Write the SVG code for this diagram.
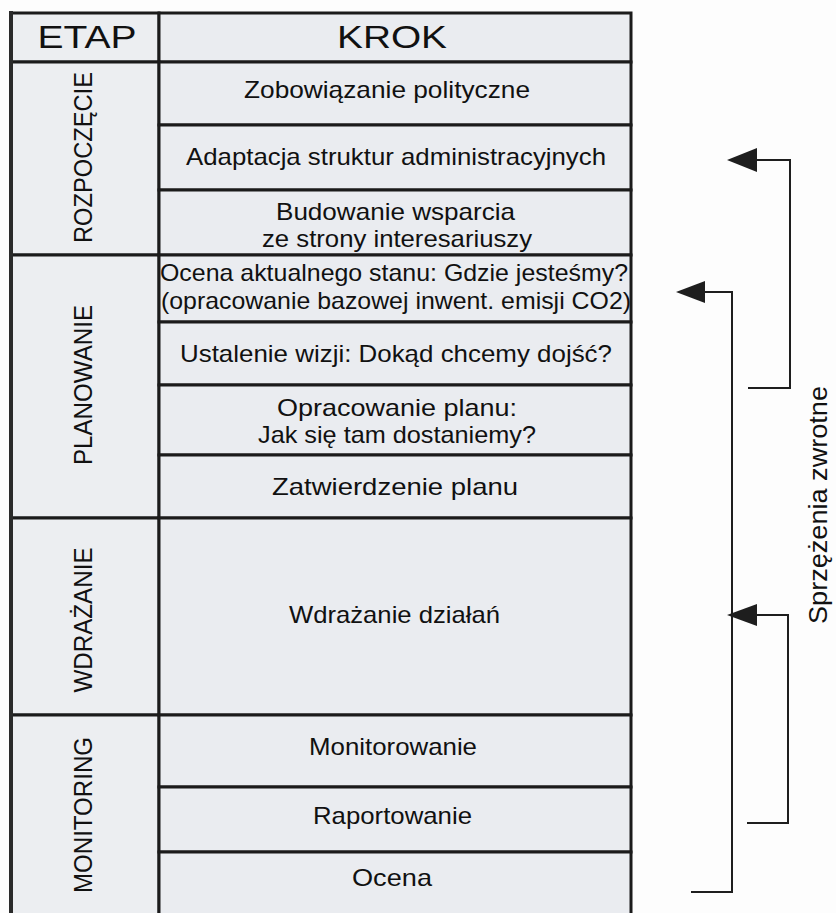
<svg xmlns="http://www.w3.org/2000/svg" width="836" height="913" viewBox="0 0 836 913">
  <style>
    .cell { fill: #eaecf0; stroke: #1b1b1b; stroke-width: 3; }
    .stage { fill: #eceef1; stroke: #1b1b1b; stroke-width: 3; }
    .t { font-family: "Liberation Sans", Arial, sans-serif; font-size: 24px; fill: #111111; text-anchor: middle; }
    .h { font-family: "Liberation Sans", Arial, sans-serif; font-size: 31px; fill: #111111; text-anchor: middle; }
    .v { font-family: "Liberation Sans", Arial, sans-serif; font-size: 25px; fill: #111111; text-anchor: middle; }
    .conn { fill: none; stroke: #1e1e1e; stroke-width: 2; }
    .head { fill: #1e1e1e; stroke: none; }
  </style>
  <rect x="0" y="0" width="836" height="913" fill="#fdfdfd"/>

  <g id="header-etap">
    <rect class="stage" x="11" y="13" width="148" height="49"/>
    <text class="h" x="87" y="48" textLength="99" lengthAdjust="spacingAndGlyphs">ETAP</text>
  </g>
  <g id="header-krok">
    <rect class="cell" x="159" y="13" width="472" height="49"/>
    <text class="h" x="392" y="48" textLength="110" lengthAdjust="spacingAndGlyphs">KROK</text>
  </g>

  <g id="stage-rozpoczecie">
    <rect class="stage" x="11" y="62" width="148" height="193"/>
    <text class="v" transform="translate(92,157.5) rotate(-90)" textLength="171" lengthAdjust="spacingAndGlyphs">ROZPOCZĘCIE</text>
  </g>
  <g id="stage-planowanie">
    <rect class="stage" x="11" y="255" width="148" height="263"/>
    <text class="v" transform="translate(92,385) rotate(-90)" textLength="160" lengthAdjust="spacingAndGlyphs">PLANOWANIE</text>
  </g>
  <g id="stage-wdrazanie">
    <rect class="stage" x="11" y="518" width="148" height="197"/>
    <text class="v" transform="translate(92,620) rotate(-90)" textLength="145" lengthAdjust="spacingAndGlyphs">WDRAŻANIE</text>
  </g>
  <g id="stage-monitoring">
    <rect class="stage" x="11" y="715" width="148" height="210"/>
    <text class="v" transform="translate(92,815) rotate(-90)" textLength="156" lengthAdjust="spacingAndGlyphs">MONITORING</text>
  </g>

  <g id="step-zobowiazanie">
    <rect class="cell" x="159" y="62" width="472" height="63"/>
    <text class="t" x="387" y="98" textLength="286" lengthAdjust="spacingAndGlyphs">Zobowiązanie polityczne</text>
  </g>
  <g id="step-adaptacja">
    <rect class="cell" x="159" y="125" width="472" height="65"/>
    <text class="t" x="396" y="165" textLength="420" lengthAdjust="spacingAndGlyphs">Adaptacja struktur administracyjnych</text>
  </g>
  <g id="step-budowanie">
    <rect class="cell" x="159" y="190" width="472" height="65"/>
    <text class="t" x="395.5" y="220" textLength="239" lengthAdjust="spacingAndGlyphs">Budowanie wsparcia</text>
    <text class="t" x="397" y="247" textLength="270" lengthAdjust="spacingAndGlyphs">ze strony interesariuszy</text>
  </g>
  <g id="step-ocena-stanu">
    <rect class="cell" x="159" y="255" width="472" height="67"/>
    <text class="t" x="394" y="281" textLength="468" lengthAdjust="spacingAndGlyphs">Ocena aktualnego stanu: Gdzie jesteśmy?</text>
    <text class="t" x="396" y="309" textLength="470" lengthAdjust="spacingAndGlyphs">(opracowanie bazowej inwent. emisji CO2)</text>
  </g>
  <g id="step-ustalenie">
    <rect class="cell" x="159" y="322" width="472" height="63"/>
    <text class="t" x="396" y="362" textLength="432" lengthAdjust="spacingAndGlyphs">Ustalenie wizji: Dokąd chcemy dojść?</text>
  </g>
  <g id="step-opracowanie">
    <rect class="cell" x="159" y="385" width="472" height="70"/>
    <text class="t" x="397" y="416" textLength="240" lengthAdjust="spacingAndGlyphs">Opracowanie planu:</text>
    <text class="t" x="397" y="443" textLength="278" lengthAdjust="spacingAndGlyphs">Jak się tam dostaniemy?</text>
  </g>
  <g id="step-zatwierdzenie">
    <rect class="cell" x="159" y="455" width="472" height="63"/>
    <text class="t" x="395" y="495" textLength="246" lengthAdjust="spacingAndGlyphs">Zatwierdzenie planu</text>
  </g>
  <g id="step-wdrazanie">
    <rect class="cell" x="159" y="518" width="472" height="197"/>
    <text class="t" x="394.5" y="623" textLength="211" lengthAdjust="spacingAndGlyphs">Wdrażanie działań</text>
  </g>
  <g id="step-monitorowanie">
    <rect class="cell" x="159" y="715" width="472" height="72"/>
    <text class="t" x="393" y="755" textLength="168" lengthAdjust="spacingAndGlyphs">Monitorowanie</text>
  </g>
  <g id="step-raportowanie">
    <rect class="cell" x="159" y="787" width="472" height="65"/>
    <text class="t" x="392.5" y="824" textLength="159" lengthAdjust="spacingAndGlyphs">Raportowanie</text>
  </g>
  <g id="step-ocena">
    <rect class="cell" x="159" y="852" width="472" height="75"/>
    <text class="t" x="392" y="886" textLength="80" lengthAdjust="spacingAndGlyphs">Ocena</text>
  </g>

  <line x1="11" y1="11" x2="11" y2="913" stroke="#2a2a2a" stroke-width="4"/>

  <g id="connectors">
    <polyline class="conn" points="748,388 790,388 790,160 755,160"/>
    <polygon class="head" points="727,160 757,148 757,172"/>
    <polyline class="conn" points="691,892 732,892 732,292 703,292"/>
    <polygon class="head" points="676,292 705,281 705,303"/>
    <polyline class="conn" points="747,823 788,823 788,615 755,615"/>
    <polygon class="head" points="727,615 757,604 757,626"/>
  </g>

  <g id="label-feedback">
    <text class="v" transform="translate(827,505) rotate(-90)" textLength="238" lengthAdjust="spacingAndGlyphs">Sprzężenia zwrotne</text>
  </g>
</svg>
